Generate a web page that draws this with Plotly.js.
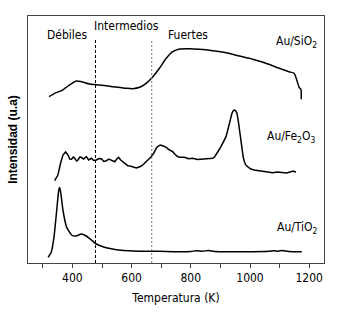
<!DOCTYPE html>
<html><head><meta charset="utf-8">
<script src="https://cdn.plot.ly/plotly-3.0.1.min.js"></script>
<style>html,body{margin:0;padding:0;background:#fff}#c{width:340px;height:312px}</style>
</head><body><div id="c"></div>
<script>
// Temperature (K) and intensity (arbitrary units, with vertical offsets as in the figure)
const tSiO2 = [321,340,363,385,413,430,458,492,536,582,604,627,649,672,694,717,739,762,795,829,874,919,964,1009,1054,1099,1132,1149,1158,1166,1172,1173];
const ySiO2 = [166.3,169.7,172.3,177,182,181.3,179,178,176.3,174.7,174.3,175.7,179.7,186.3,194.7,204.7,211.3,214,214.3,213.7,212.3,210.3,207,203.7,199.7,194.7,191.3,189.7,183,175.7,173.7,163.7];

const tFe = [340,351,360,368,377,385,391,397,403,408,414,419,425,430,438,447,455,464,472,481,490,498,506,515,523,531,537,543,550,556,563,571,579,587,595,604,610,616,625,633,641,649,657,666,675,683,690,697,707,717,728,739,747,756,767,779,792,806,823,840,857,874,880,885,893,902,910,919,925,930,935,939,943,947,952,956,960,964,968,973,977,981,986,992,1003,1014,1028,1042,1059,1076,1093,1110,1124,1138,1146,1153,1155];
const yFe  = [82.3,88,99.7,108,111,108,104,103.7,106,104.7,102,103,106,105.7,104,106.3,103,104.7,102.5,103,104.5,104.3,101.5,102.3,104,103,102,101.3,104,105.7,103,101.3,99,97.3,97,96.3,95.5,95,96,97,99,101.3,104,106.3,110,114.7,117,118,117,115.7,113,111.3,108.5,106.3,105.7,105.7,104.2,104.7,103.5,104,104.7,104.7,106,108,112,116.3,121,126.3,133,139.7,145,149.7,152,153,152,149.7,143,133,123,113,106,101.3,98,96.3,94,93,92.5,92,91,90.3,91,90.7,90,91.3,92,91,90.7];

const tTi = [318,329,338,346,354,357,361,368,380,397,413,430,447,464,481,503,531,565,604,649,694,750,800,820,840,860,880,950,1000,1050,1080,1095,1110,1130,1175];
const yTi = [5.7,11.3,26.3,49.7,73,75.7,69.7,53,36.3,28,27,29,27,23,19,16.3,14.3,12.7,12,11.7,11.7,11.3,11.5,12.3,11.8,12.5,11.5,11.3,11.3,11.4,12.3,11.8,12.6,11.5,11.3];

const regionBounds = [478, 668];
const xTickVals = [400,600,800,1000,1200];
const xMinorStep = 100;

const FONT = '"Liberation Sans Narrow","Arial Narrow","DejaVu Sans Condensed",Arial,sans-serif';

const line = {color:'#000', width:1.5};
const traces = [
  {x:tSiO2, y:ySiO2, mode:'lines', line:Object.assign({shape:'spline', smoothing:0.6}, line), hoverinfo:'skip'},
  {x:tFe, y:yFe, mode:'lines', line:line, hoverinfo:'skip'},
  {x:tTi, y:yTi, mode:'lines', line:Object.assign({shape:'spline', smoothing:0.5}, line), hoverinfo:'skip'}
];

const shapes = [
  {type:'line', xref:'x', yref:'y', x0:regionBounds[0], x1:regionBounds[0], y0:0, y1:223, line:{color:'#000', width:1, dash:'3px,2px'}},
  {type:'line', xref:'x', yref:'y', x0:regionBounds[1], x1:regionBounds[1], y0:0, y1:223, line:{color:'#777', width:1, dash:'2px,2px'}}
];

const ann = (text, x, y) => ({text, x, y, xref:'x', yref:'y', showarrow:false, xanchor:'center', yanchor:'middle', font:{family:FONT, size:12, color:'#000'}});
const annotations = [
  ann('Débiles', 381, 228),
  ann('Intermedios', 583, 237),
  ann('Fuertes', 789, 228),
  ann('Au/SiO<sub>2</sub>', 1156, 221),
  ann('Au/Fe<sub>2</sub>O<sub>3</sub>', 1139, 126),
  ann('Au/TiO<sub>2</sub>', 1159, 35)
];

const layout = {
  width:340, height:312,
  margin:{l:28, r:16, t:16, b:49},
  paper_bgcolor:'#fff', plot_bgcolor:'#fff',
  showlegend:false,
  font:{family:FONT, color:'#000', size:12},
  xaxis:{range:[250,1250], tickmode:'array', tickvals:xTickVals,
    ticks:'outside', ticklen:4, tickcolor:'#444', showgrid:false, zeroline:false,
    minor:{dtick:xMinorStep, tick0:300, ticks:'outside', ticklen:4, tickcolor:'#444', showgrid:false},
    showline:true, linecolor:'#444', linewidth:1, mirror:true,
    tickfont:{family:FONT, size:12, color:'#000'},
    title:{text:'Temperatura (K)', font:{family:FONT, size:12, color:'#000'}, standoff:9}},
  yaxis:{range:[0,247], showticklabels:false, ticks:'', showgrid:false, zeroline:false,
    showline:true, linecolor:'#444', linewidth:1, mirror:true,
    title:{text:'<b>Intensidad (u.a)</b>', font:{family:'Liberation Sans, Arial, sans-serif', size:12, color:'#000'}, standoff:6}},
  shapes, annotations
};

Plotly.newPlot('c', traces, layout, {staticPlot:true, displayModeBar:false});
</script></body></html>
